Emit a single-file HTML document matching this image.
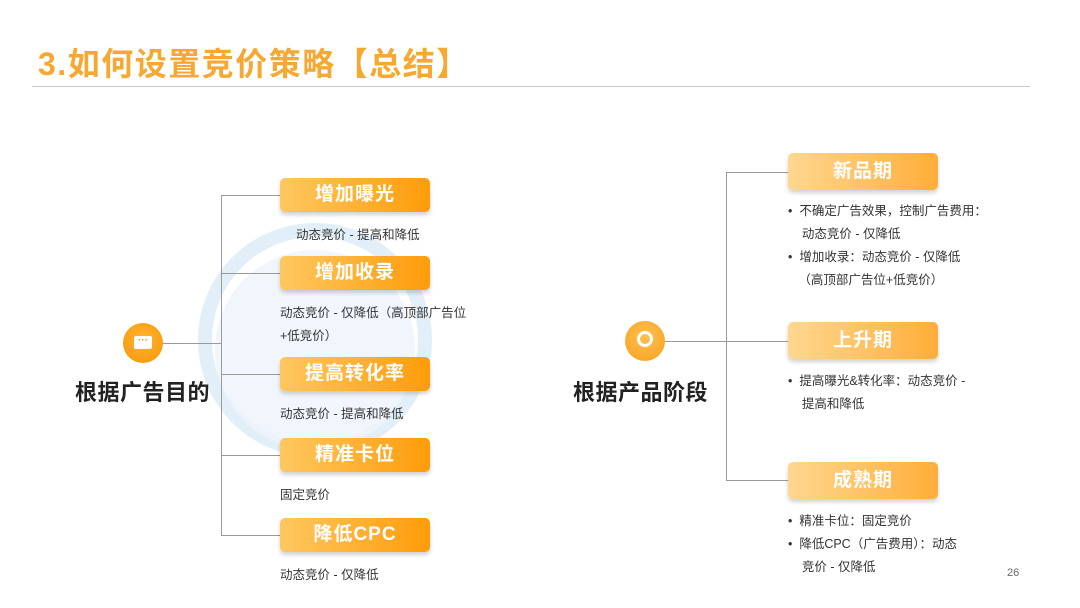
<!DOCTYPE html>
<html><head><meta charset="utf-8"><style>
body{margin:0;width:1080px;height:608px;background:#fff;position:relative;overflow:hidden;font-family:"Liberation Sans","Noto Sans CJK SC",sans-serif;}
.a{position:absolute}
.t{left:38px;top:39px;font-size:32px;font-weight:bold;color:#f6a832;letter-spacing:1.5px}
.hl{left:32px;top:86px;width:998px;height:1px;background:#c8c8c8}
.ln{background:#9a9a9a}
.b{width:150px;height:34px;border-radius:5px;color:#fff;font-size:19px;font-weight:bold;text-align:center;line-height:34px;letter-spacing:1px;box-shadow:0 3px 4px rgba(0,0,0,.18)}
.bl{left:280px;background:linear-gradient(90deg,#ffc760,#ff9c0a)}
.br{left:788px;height:37px;line-height:37px;background:linear-gradient(90deg,#ffd790,#ffae3a)}
.s{font-size:12.5px;color:#333;line-height:23px}
.c{width:40px;height:40px;border-radius:50%;background:radial-gradient(circle at 50% 40%,#ffb52e,#f5950a)}
.lab{font-size:22px;font-weight:bold;color:#222;letter-spacing:0.5px}
</style></head><body>
<div class="a t">3.如何设置竞价策略【总结】</div>
<div class="a hl"></div>
<svg class="a" style="left:165px;top:180px" width="290" height="310"><g fill="none" stroke="#e3eff8" stroke-width="14"><circle cx="150" cy="160" r="110"/></g><circle cx="150" cy="170" r="100" fill="#edf4fb" opacity=".8"/></svg>
<!-- left tree -->
<div class="a ln" style="left:221px;top:195px;width:1px;height:341px"></div>
<div class="a ln" style="left:163px;top:343px;width:58px;height:1px"></div>
<div class="a ln" style="left:221px;top:195px;width:59px;height:1px"></div>
<div class="a ln" style="left:221px;top:273px;width:59px;height:1px"></div>
<div class="a ln" style="left:221px;top:374px;width:59px;height:1px"></div>
<div class="a ln" style="left:221px;top:455px;width:59px;height:1px"></div>
<div class="a ln" style="left:221px;top:535px;width:59px;height:1px"></div>
<div class="a c" style="left:123px;top:323px"></div>
<div class="a" style="left:134px;top:336px;width:18px;height:13px;background:#fff;border-radius:2px;color:#f5950a;font-size:10px;line-height:9px;text-align:center;font-weight:bold">···</div>
<div class="a lab" style="left:75px;top:375px">根据广告目的</div>
<div class="a b bl" style="top:178px">增加曝光</div>
<div class="a s" style="left:296px;top:224px">动态竞价 - 提高和降低</div>
<div class="a b bl" style="top:256px">增加收录</div>
<div class="a s" style="left:280px;top:302px">动态竞价 - 仅降低（高顶部广告位<br>+低竞价）</div>
<div class="a b bl" style="top:357px">提高转化率</div>
<div class="a s" style="left:280px;top:403px">动态竞价 - 提高和降低</div>
<div class="a b bl" style="top:438px">精准卡位</div>
<div class="a s" style="left:280px;top:484px">固定竞价</div>
<div class="a b bl" style="top:518px">降低CPC</div>
<div class="a s" style="left:280px;top:564px">动态竞价 - 仅降低</div>
<!-- right tree -->
<div class="a ln" style="left:726px;top:172px;width:1px;height:308px"></div>
<div class="a ln" style="left:665px;top:341px;width:123px;height:1px"></div>
<div class="a ln" style="left:726px;top:172px;width:62px;height:1px"></div>
<div class="a ln" style="left:726px;top:480px;width:62px;height:1px"></div>
<div class="a c" style="left:625px;top:321px;background:radial-gradient(circle at 50% 40%,#ffc050,#f7a020)"></div>
<div class="a" style="left:637px;top:331px;width:10px;height:10px;border:3px solid #fff;border-radius:50%"></div>
<div class="a lab" style="left:573px;top:375px">根据产品阶段</div>
<div class="a b br" style="top:153px">新品期</div>
<div class="a s" style="left:788px;top:200px">•&nbsp;&nbsp;不确定广告效果，控制广告费用：<br>&nbsp;&nbsp;&nbsp;&nbsp;动态竞价 - 仅降低<br>•&nbsp;&nbsp;增加收录：动态竞价 - 仅降低<br>&nbsp;&nbsp;&nbsp;（高顶部广告位+低竞价）</div>
<div class="a b br" style="top:322px">上升期</div>
<div class="a s" style="left:788px;top:370px">•&nbsp;&nbsp;提高曝光&amp;转化率：动态竞价 -<br>&nbsp;&nbsp;&nbsp;&nbsp;提高和降低</div>
<div class="a b br" style="top:462px">成熟期</div>
<div class="a s" style="left:788px;top:510px">•&nbsp;&nbsp;精准卡位：固定竞价<br>•&nbsp;&nbsp;降低CPC（广告费用）：动态<br>&nbsp;&nbsp;&nbsp;&nbsp;竞价 - 仅降低</div>
<div class="a" style="left:1007px;top:567px;font-size:11px;color:#666">26</div>
</body></html>
